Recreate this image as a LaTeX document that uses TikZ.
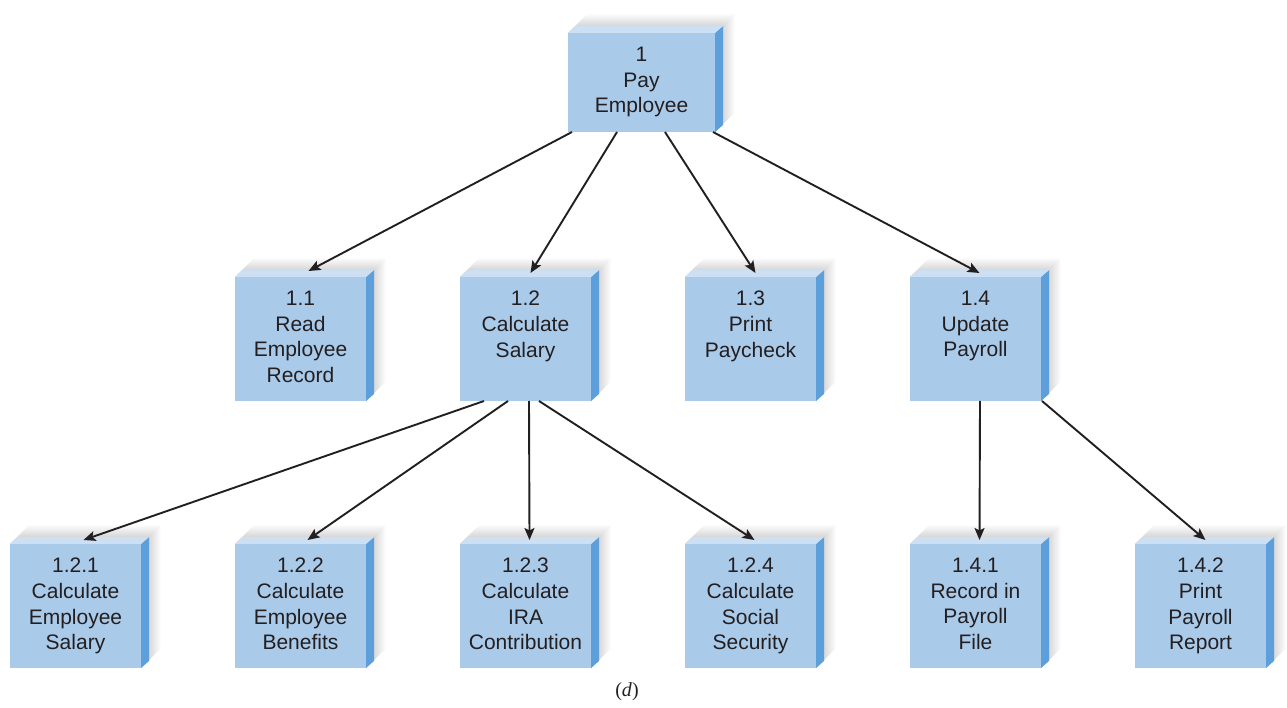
\documentclass[tikz,border=0pt]{standalone}
\usepackage{fontspec}
\setmainfont{Liberation Sans}
\newfontfamily\capfont{Liberation Serif}
\usetikzlibrary{arrows.meta,calc}
\definecolor{frontc}{HTML}{AACAEA}
\definecolor{topc}{HTML}{CDDFF2}
\definecolor{sidec}{HTML}{5C9FDA}
\definecolor{txtc}{HTML}{231F20}
\tikzset{
  front/.style={fill=frontc,draw=none,inner sep=0pt,outer sep=0pt},
  lbl/.style={align=center,inner sep=0pt,text=txtc,font=\fontsize{21}{25.6}\selectfont},
  conn/.style={draw=txtc,line width=1.9pt,-{Stealth[length=12pt,width=10pt,inset=2.5pt]}},
}
% name, left x, top y, width, height, text
\newcommand\cubebox[6]{%
  \shade[top color=white,bottom color=black!25] (#2,#3) -- ++(20,-20) -- ++(#4,0) -- ++(-20,20) -- cycle;
  \shade[left color=black!25,right color=white] ({#2+#4},#3) -- ++(20,-20) -- ++(0,#5) -- ++(-20,20) -- cycle;
  \fill[sidec] ({#2+#4},#3) -- ++(8,-7) -- ++(0,#5) -- ++(-8,7) -- cycle;
  \fill[topc] (#2,#3) -- ++(8,-7) -- ++(#4,0) -- ++(-8,7) -- cycle;
  \node[front,minimum width=#4pt,minimum height=#5pt,anchor=north west] (#1) at (#2,#3) {};
  \node[lbl,anchor=north] (#1-t) at ($(#1.north)+(0,14)$) {#6};
}
\begin{document}
\begin{tikzpicture}[x=1pt,y=-1pt]
\useasboundingbox[fill=white] (0,0) rectangle (1287,708);
\cubebox{p1}{568}{33}{147}{99}{1\\Pay\\Employee}
\cubebox{p11}{235}{277}{131}{124}{1.1\\Read\\Employee\\Record}
\cubebox{p12}{460}{277}{131}{124}{1.2\\Calculate\\Salary}
\cubebox{p13}{685}{277}{131}{124}{1.3\\Print\\Paycheck}
\cubebox{p14}{910}{277}{131}{124}{1.4\\Update\\Payroll}
\cubebox{p121}{10}{544}{131}{124}{1.2.1\\Calculate\\Employee\\Salary}
\cubebox{p122}{235}{544}{131}{124}{1.2.2\\Calculate\\Employee\\Benefits}
\cubebox{p123}{460}{544}{131}{124}{1.2.3\\Calculate\\IRA\\Contribution}
\cubebox{p124}{685}{544}{131}{124}{1.2.4\\Calculate\\Social\\Security}
\cubebox{p141}{910}{544}{131}{124}{1.4.1\\Record in\\Payroll\\File}
\cubebox{p142}{1135}{544}{131}{124}{1.4.2\\Print\\Payroll\\Report}
% connectors
\draw[conn] ($(p1.south west)+(4,0)$) -- ($(p11.north)+(8,-6)$);
\draw[conn] ($(p1.south west)+(49,0)$) -- ($(p12.north)+(5,-4)$);
\draw[conn] ($(p1.south west)+(97,0)$) -- ($(p13.north)+(5,-4)$);
\draw[conn] ($(p1.south west)+(145,0)$) -- ($(p14.north)+(4,-4)$);
\draw[conn] ($(p12.south west)+(24,0)$) -- ($(p121.north)+(8,-4)$);
\draw[conn] ($(p12.south west)+(48,0)$) -- ($(p122.north)+(7,-4)$);
\draw[conn] ($(p12.south west)+(69,0)$) -- ($(p123.north)+(4,-4)$);
\draw[conn] ($(p12.south west)+(79,0)$) -- ($(p124.north)+(4,-4)$);
\draw[conn] ($(p14.south west)+(70,0)$) -- ($(p141.north)+(4,-4)$);
\draw[conn] ($(p14.south east)+(1,0)$) -- ($(p142.north)+(5,-4)$);
\node[font=\capfont\fontsize{20}{22}\selectfont,text=txtc] (cap) at (627,692) {(\textit{d})};
\end{tikzpicture}
\end{document}
